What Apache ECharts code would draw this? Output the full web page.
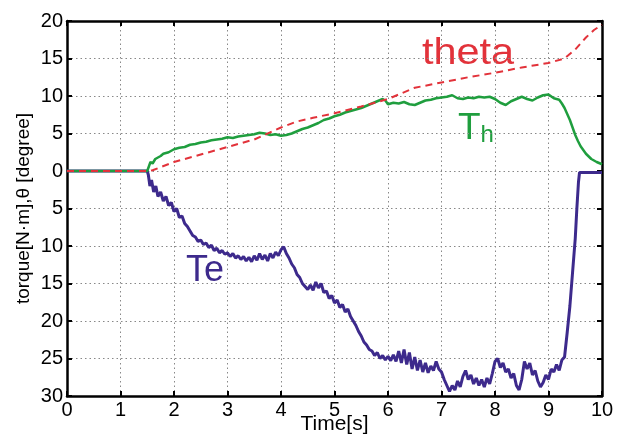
<!DOCTYPE html>
<html>
<head>
<meta charset="utf-8">
<script src="https://cdn.jsdelivr.net/npm/echarts@6/dist/echarts.min.js"></script>
<style>
  html, body { margin: 0; padding: 0; background: #fff; }
  #main { width: 618px; height: 443px; }
</style>
</head>
<body>
<div id="main"></div>
<script>
// tick labels (the original plot prints no minus signs)
var xTickLabels = ['0', '1', '2', '3', '4', '5', '6', '7', '8', '9', '10'];
var yTickLabels = ['30', '25', '20', '15', '10', '5', '0', '5', '10', '15', '20'];

// theta [degree], red dashed
var thetaData = [
  [0, 0], [1.5, 0], [1.6, 0.1], [2.0, 1.2], [2.5, 2.2], [3.0, 3.2], [3.5, 4.2],
  [4.0, 5.8], [4.3, 6.6], [4.6, 7.1], [5.0, 7.7], [5.5, 8.6], [6.0, 9.6], [6.5, 11.1],
  [7.0, 11.8], [7.5, 12.5], [8.0, 13.1], [8.5, 13.8], [9.0, 14.4], [9.3, 15.0],
  [9.5, 16.2], [9.7, 17.8], [9.85, 18.8], [10, 19.5]
];

// Th [N.m], green
var thData = [
  [0, 0], [1.5, 0], [1.53, 0.6], [1.56, 1.2], [1.6, 1.0], [1.65, 1.6], [1.7, 1.8], [1.75, 2.0],
  [1.8, 2.3], [1.9, 2.5], [2.0, 2.9], [2.1, 3.1], [2.2, 3.2], [2.3, 3.5], [2.4, 3.6], [2.5, 3.8],
  [2.6, 3.9], [2.7, 4.1], [2.8, 4.2], [2.9, 4.3], [3.0, 4.5], [3.1, 4.4], [3.2, 4.6], [3.3, 4.7],
  [3.4, 4.8], [3.5, 4.9], [3.6, 5.1], [3.7, 5.0], [3.8, 4.8], [3.9, 4.9], [4.0, 4.7], [4.1, 4.8],
  [4.2, 5.0], [4.3, 5.3], [4.4, 5.6], [4.5, 5.8], [4.6, 6.1], [4.7, 6.4], [4.8, 6.8], [4.9, 7.0],
  [5.0, 7.3], [5.1, 7.5], [5.2, 7.8], [5.3, 8.0], [5.4, 8.2], [5.5, 8.4], [5.6, 8.7], [5.7, 9.0],
  [5.8, 9.3], [5.9, 9.6], [5.95, 9.4], [6.0, 8.9], [6.1, 9.1], [6.2, 9.0], [6.3, 9.2], [6.4, 8.9],
  [6.5, 8.8], [6.6, 9.1], [6.7, 9.4], [6.8, 9.5], [6.9, 9.7], [7.0, 9.8], [7.1, 9.9], [7.2, 10.1],
  [7.3, 9.7], [7.4, 9.6], [7.5, 9.8], [7.6, 9.7], [7.7, 9.9], [7.8, 9.8], [7.9, 9.9], [8.0, 9.6],
  [8.1, 9.1], [8.2, 8.8], [8.3, 9.3], [8.4, 9.6], [8.5, 9.9], [8.6, 9.6], [8.7, 9.4], [8.8, 9.8],
  [8.9, 10.1], [9.0, 10.2], [9.1, 9.7], [9.2, 9.5], [9.25, 9.0], [9.3, 8.4], [9.35, 7.6],
  [9.4, 6.8], [9.45, 5.8], [9.5, 4.8], [9.55, 4.0], [9.6, 3.3], [9.65, 2.8], [9.7, 2.3],
  [9.8, 1.6], [9.9, 1.2], [10, 0.9]
];

// Te [N.m], purple
var teData = [
  [0, 0], [1.5, 0], [1.52, -0.5], [1.55, -2.0], [1.58, -1.2], [1.62, -2.8], [1.66, -2.0],
  [1.7, -3.4], [1.75, -2.8], [1.8, -4.0], [1.85, -3.4], [1.9, -4.6], [1.95, -4.2], [2.0, -5.4],
  [2.05, -5.0], [2.1, -6.2], [2.15, -6.0], [2.2, -7.0], [2.25, -7.4], [2.3, -8.0], [2.35, -8.6],
  [2.4, -8.8], [2.45, -9.4], [2.5, -9.2], [2.55, -9.8], [2.6, -9.6], [2.65, -10.2], [2.7, -9.9],
  [2.75, -10.6], [2.8, -10.3], [2.85, -10.9], [2.9, -10.6], [2.95, -11.1], [3.0, -10.9],
  [3.05, -11.4], [3.1, -11.0], [3.15, -11.6], [3.2, -11.3], [3.25, -11.8], [3.3, -11.4],
  [3.35, -12.0], [3.4, -11.5], [3.45, -12.1], [3.5, -11.3], [3.55, -11.9], [3.6, -11.0],
  [3.65, -11.8], [3.7, -11.2], [3.75, -12.0], [3.8, -11.0], [3.85, -11.6], [3.9, -10.8],
  [3.95, -11.3], [4.0, -10.5], [4.05, -10.1], [4.1, -11.0], [4.15, -11.6], [4.2, -12.4],
  [4.25, -12.9], [4.3, -13.8], [4.35, -14.2], [4.4, -15.0], [4.45, -15.4], [4.5, -15.8],
  [4.55, -15.2], [4.6, -15.9], [4.65, -14.8], [4.7, -15.6], [4.75, -15.0], [4.8, -16.2],
  [4.85, -16.0], [4.9, -17.0], [4.95, -16.6], [5.0, -17.6], [5.05, -17.2], [5.1, -18.2],
  [5.15, -17.8], [5.2, -18.8], [5.25, -18.4], [5.3, -19.4], [5.35, -20.0], [5.4, -20.6],
  [5.45, -21.4], [5.5, -22.0], [5.55, -22.8], [5.6, -23.2], [5.65, -23.8], [5.7, -24.0],
  [5.75, -24.6], [5.8, -24.2], [5.85, -25.0], [5.9, -24.6], [5.95, -25.2], [6.0, -24.7],
  [6.05, -25.3], [6.1, -24.5], [6.15, -25.4], [6.2, -24.0], [6.25, -25.6], [6.3, -23.8],
  [6.35, -25.8], [6.4, -24.2], [6.45, -26.4], [6.5, -24.8], [6.55, -26.6], [6.6, -25.2],
  [6.65, -26.8], [6.7, -25.6], [6.75, -26.9], [6.8, -26.0], [6.85, -26.6], [6.9, -25.4],
  [6.95, -26.4], [7.0, -26.8], [7.05, -27.8], [7.1, -28.6], [7.15, -29.4], [7.2, -28.6],
  [7.25, -29.2], [7.3, -28.0], [7.35, -28.8], [7.4, -27.4], [7.45, -26.6], [7.5, -27.8],
  [7.55, -27.2], [7.6, -28.4], [7.65, -27.6], [7.7, -28.6], [7.75, -27.8], [7.8, -28.8],
  [7.85, -27.6], [7.9, -28.4], [7.95, -27.0], [8.0, -25.4], [8.05, -25.0], [8.1, -26.2],
  [8.15, -25.6], [8.2, -26.8], [8.25, -26.4], [8.3, -27.6], [8.35, -27.0], [8.4, -28.6],
  [8.45, -29.2], [8.5, -27.8], [8.55, -25.4], [8.6, -26.4], [8.65, -25.6], [8.7, -27.2],
  [8.75, -26.6], [8.8, -28.0], [8.85, -28.8], [8.9, -28.2], [8.95, -27.2], [9.0, -27.8],
  [9.05, -26.4], [9.1, -26.8], [9.15, -25.8], [9.2, -26.6], [9.25, -25.2], [9.3, -24.8],
  [9.35, -21.5], [9.4, -18.0], [9.45, -13.5], [9.5, -9.0], [9.53, -5.0], [9.56, -1.5],
  [9.58, -0.2], [10, -0.2]
];

var myChart = echarts.init(document.getElementById('main'));

var font = 'Liberation Sans, Arial, sans-serif';
var boxLine = { show: true, onZero: false, lineStyle: { color: '#000', width: 2.5 } };
var tick = { show: true, inside: true, length: 5, lineStyle: { color: '#000', width: 2 } };
var dotted = { show: true, lineStyle: { color: '#888', width: 1, type: [1.5, 3] } };

var option = {
  animation: false,
  grid: { left: 67, right: 16, top: 21, bottom: 47, outerBoundsMode: 'none' },
  xAxis: [
    {
      type: 'value', min: 0, max: 10, interval: 1,
      name: 'Time[s]', nameLocation: 'middle', nameGap: 18, nameMoveOverlap: false,
      nameTextStyle: { color: '#000', fontSize: 21, fontFamily: font },
      axisLine: boxLine, axisTick: tick, splitLine: dotted,
      axisLabel: {
        color: '#000', fontSize: 20, fontFamily: font, margin: 4,
        formatter: function (v) { return xTickLabels[Math.round(v)]; }
      }
    },
    {
      type: 'value', min: 0, max: 10, interval: 1, position: 'top',
      axisLine: boxLine, axisTick: tick, splitLine: { show: false }, axisLabel: { show: false }
    }
  ],
  yAxis: [
    {
      type: 'value', min: -30, max: 20, interval: 5,
      name: 'torque[N·m],θ [degree]', nameLocation: 'middle', nameGap: 34, nameMoveOverlap: false,
      nameTextStyle: { color: '#000', fontSize: 19, fontFamily: font },
      axisLine: boxLine, axisTick: tick, splitLine: dotted,
      axisLabel: {
        color: '#000', fontSize: 20, fontFamily: font, margin: 4,
        formatter: function (v) { return yTickLabels[Math.round((v + 30) / 5)]; }
      }
    },
    {
      type: 'value', min: -30, max: 20, interval: 5, position: 'right',
      axisLine: boxLine, axisTick: tick, splitLine: { show: false }, axisLabel: { show: false }
    }
  ],
  series: [
    {
      name: 'Te', type: 'line', data: teData, showSymbol: false, z: 3,
      lineStyle: { color: '#3d2a8c', width: 3 }
    },
    {
      name: 'Th', type: 'line', data: thData, showSymbol: false, z: 4,
      lineStyle: { color: '#1f9e3e', width: 2.5 }
    },
    {
      name: 'theta', type: 'line', data: thetaData, showSymbol: false, z: 5,
      lineStyle: { color: '#e2323a', width: 2, type: [7, 5] }
    }
  ],
  graphic: [
    {
      type: 'text', left: 422, top: 35, scaleX: 1.12,
      style: { text: 'theta', fill: '#e2323a', font: '37px ' + font }
    },
    {
      type: 'text', left: 458, top: 110,
      style: {
        text: '{a|T}{b|h}', fill: '#1f9e3e',
        rich: {
          a: { fill: '#1f9e3e', fontSize: 37, fontFamily: font, verticalAlign: 'bottom' },
          b: { fill: '#1f9e3e', fontSize: 24, fontFamily: font, verticalAlign: 'bottom' }
        }
      }
    },
    {
      type: 'text', left: 186, top: 253,
      style: { text: 'Te', fill: '#3d2a8c', font: '36px ' + font }
    }
  ]
};

myChart.setOption(option);
</script>
</body>
</html>
